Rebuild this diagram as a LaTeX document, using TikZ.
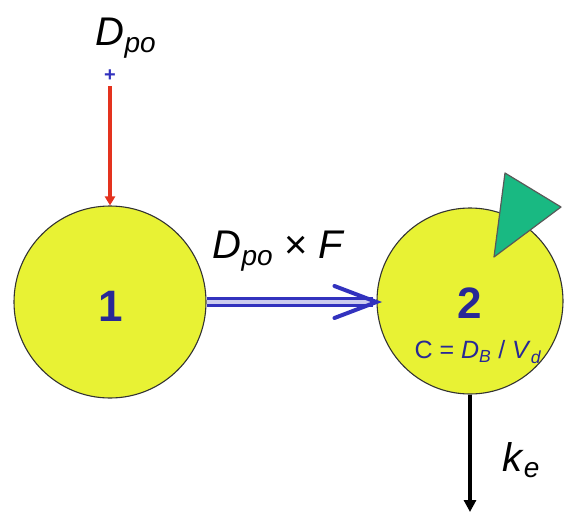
\documentclass[tikz,border=0pt]{standalone}
\usepackage{fontspec}
\setmainfont{Liberation Sans}
\usetikzlibrary{arrows.meta}
\definecolor{cyel}{RGB}{232,242,52}
\definecolor{cblue}{RGB}{40,40,150}
\definecolor{carrow}{RGB}{50,50,190}
\definecolor{cred}{RGB}{228,50,30}
\definecolor{cgreen}{RGB}{25,185,130}
\begin{document}
\begin{tikzpicture}[x=1pt,y=-1pt,
  comp/.style={circle,draw=black!80,line width=1.1pt,fill=cyel,inner sep=0pt},
  lbl/.style={inner sep=0pt,font=\fontsize{40}{40}\selectfont},
  num/.style={inner sep=0pt,text=cblue,font=\fontsize{44}{44}\selectfont\bfseries}]
\useasboundingbox (0,0) rectangle (566,523);
\node[comp,minimum size=192pt] (c1) at (110,302) {};
\node[comp,minimum size=186pt] (c2) at (470,301) {};
\node[num] (n1) at (111,306) {1};
\node[num] (n2) at (470,303) {2};
\node[inner sep=0pt,text=cblue,font=\fontsize{25}{25}\selectfont] (f2) at (478,352) {C = \textit{D}\textsubscript{\textit{B}} / \textit{V}\textsubscript{\textit{d}}};
% green triangle
\draw[draw=black!65,line width=1.2pt,fill=cgreen,line join=round] (505,173) -- (561,207) -- (494,257) -- cycle;
% dose input
\node[lbl] (dpo) at (126,38) {\textit{D}\textsubscript{\textit{po}}};
\coordinate (src) at (110,86);
\node[text=carrow,inner sep=0pt,font=\fontsize{20}{20}\selectfont\bfseries] (star) at (110,76) {+};
\draw[cred,line width=3.5pt,-{Triangle[length=9pt,width=10pt]}] (src) -- (c1.north);
% transfer
\node[lbl] (tr) at (279,251) {\textit{D}\textsubscript{\textit{po}} × \textit{F}};
\coordinate (tip) at (c1.east -| c2.west);
\draw[carrow,line width=3pt,double=carrow!25,double distance=4pt,shorten >=3pt] (c1.east) -- (tip);
\draw[carrow,line width=4pt,line cap=round,line join=miter] ([xshift=-42pt,yshift=-16pt]tip) -- (tip) -- ([xshift=-42pt,yshift=16pt]tip);
% elimination
\coordinate (out) at (470,512);
\draw[black,line width=3.5pt,-{Triangle[length=12pt,width=12pt]}] (c2.south) -- (out);
\node[lbl] (ke) at (521,460) {\textit{k}\textsubscript{\textit{e}}};
\end{tikzpicture}
\end{document}
